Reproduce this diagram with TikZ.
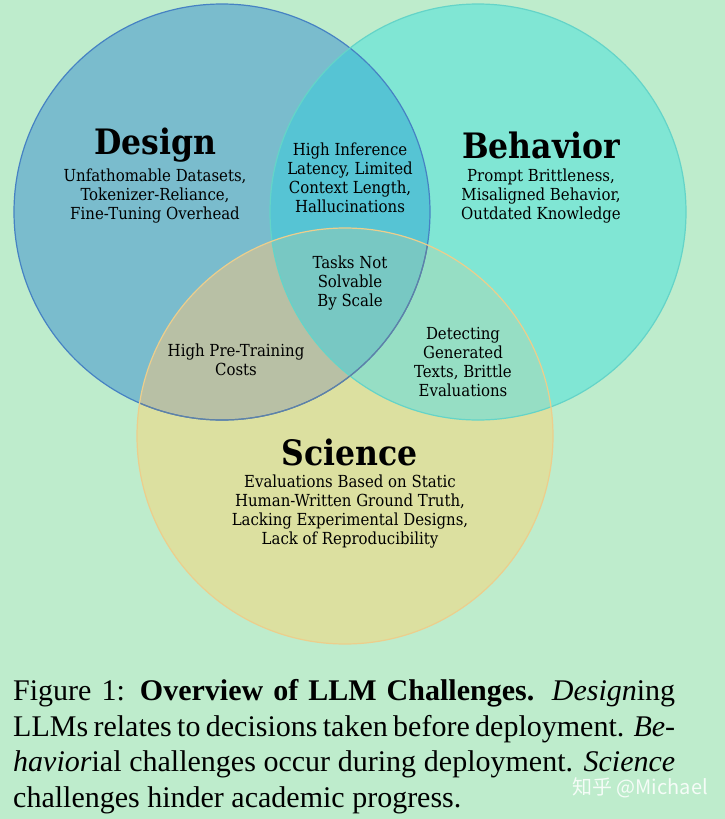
\documentclass[tikz,border=0pt]{standalone}
\usepackage{fontspec}
\setmainfont{Liberation Serif}
\newfontfamily\vennfont{DejaVu Serif Condensed}
\newfontfamily\cjk{Noto Sans CJK SC}
\definecolor{bg}{RGB}{190,236,204}
\definecolor{desfill}{RGB}{122,188,205}
\definecolor{behfill}{RGB}{128,230,212}
\definecolor{scifill}{RGB}{220,224,160}
\definecolor{desbeh}{RGB}{86,196,212}
\definecolor{dessci}{RGB}{184,192,165}
\definecolor{behsci}{RGB}{150,222,196}
\definecolor{allthree}{RGB}{120,200,195}
\definecolor{desline}{RGB}{70,130,195}
\definecolor{behline}{RGB}{100,212,200}
\definecolor{sciline}{RGB}{236,206,140}
\tikzset{
  title/.style={font=\vennfont\bfseries\fontsize{35}{40}\selectfont, inner sep=0pt},
  item/.style={font=\vennfont\fontsize{16.6}{19}\selectfont, align=center, inner sep=0pt},
}
\begin{document}
\begin{tikzpicture}[x=1pt,y=-1pt,line join=round,line cap=round]
\def \r{208pt}
\coordinate (D) at (222,212);
\coordinate (B) at (478,212);
\coordinate (S) at (345,436);
\useasboundingbox (0,0) rectangle (725,819);
\fill[bg] (0,0) rectangle (725,819);
% circles and overlaps
\fill[desfill] (D) circle[radius=\r];
\fill[behfill] (B) circle[radius=\r];
\fill[scifill] (S) circle[radius=\r];
\begin{scope}\clip (D) circle[radius=\r]; \fill[desbeh] (B) circle[radius=\r]; \fill[dessci] (S) circle[radius=\r];\end{scope}
\begin{scope}\clip (B) circle[radius=\r]; \fill[behsci] (S) circle[radius=\r];\end{scope}
\begin{scope}\clip (D) circle[radius=\r]; \clip (B) circle[radius=\r]; \fill[allthree] (S) circle[radius=\r];\end{scope}
\draw[desline,line width=1.2pt] (D) circle[radius=\r];
\draw[behline,line width=1.2pt] (B) circle[radius=\r];
\begin{scope}\clip (S) circle[radius=\r]; \draw[desline!55!gray,line width=1.2pt] (D) circle[radius=\r];\end{scope}
\draw[sciline,line width=1.2pt] (S) circle[radius=\r];
% labels
\node[title] (design) at (155,145) {Design};
\node[item] (designtxt) at (155,196) {Unfathomable Datasets,\\Tokenizer-Reliance,\\Fine-Tuning Overhead};
\node[title] (behavior) at (541,145) {Behavior};
\node[item] (behaviortxt) at (541,196) {Prompt Brittleness,\\Misaligned Behavior,\\Outdated Knowledge};
\node[item] (db) at (350,178) {High Inference\\Latency, Limited\\Context Length,\\Hallucinations};
\node[item] (dbs) at (350,283) {Tasks Not\\Solvable\\By Scale};
\node[item] (ds) at (236,360) {High Pre-Training\\Costs};
\node[item] (bs) at (463,362) {Detecting\\Generated\\Texts, Brittle\\Evaluations};
\node[title] (science) at (350,452) {Science};
\node[item] (sciencetxt) at (350,512) {Evaluations Based on Static\\Human-Written Ground Truth,\\Lacking Experimental Designs,\\Lack of Reproducibility};
% caption
\node[anchor=north west, inner sep=0pt, text width=662pt, align=justify,
  font=\fontsize{30}{35.7}\selectfont] (caption) at (13,679)
  {Figure 1: \textbf{Overview of LLM Challenges.} \emph{Design}ing\linebreak
   LLMs relates to decisions taken before deployment. \emph{Be-}\linebreak
   \emph{havior}ial challenges occur during deployment. \emph{Science}\linebreak
   challenges hinder academic progress.};
\node[anchor=east, inner sep=0pt, text=white, opacity=0.85, font=\cjk\fontsize{20}{24}\selectfont] (mark) at (708,788) {知乎 @Michael};
\end{tikzpicture}
\end{document}
